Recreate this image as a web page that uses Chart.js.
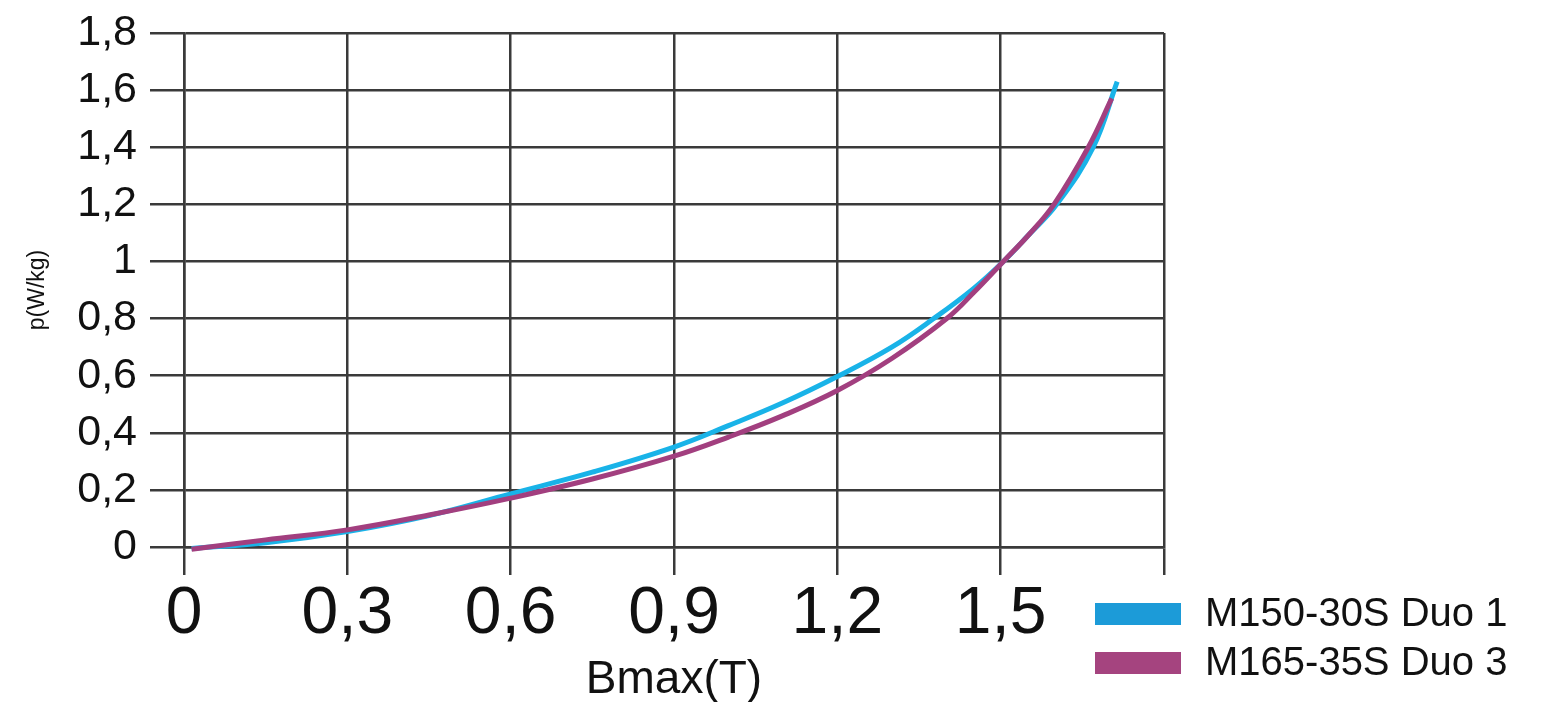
<!DOCTYPE html>
<html lang="fr">
<head>
    <meta charset="UTF-8">
    <title>p(W/kg) vs Bmax(T)</title>
    <script src="https://cdn.jsdelivr.net/npm/chart.js"></script>
    <style>
        body { margin: 0; background: #fff; }
        #lossChart { display: block; }
    </style>
</head>
<body>
<canvas id="lossChart" width="1543" height="702"></canvas>
<script>
// data
const seriesNames = ['M150-30S Duo 1', 'M165-35S Duo 3'];

const duo1B = [0.014, 0.15, 0.3, 0.45, 0.6, 0.75, 0.9, 1.0, 1.1, 1.2, 1.3, 1.377, 1.45, 1.505, 1.55, 1.603, 1.67, 1.714];
const duo1P = [-0.005, 0.015, 0.054, 0.11, 0.186, 0.262, 0.35, 0.425, 0.505, 0.597, 0.70, 0.8, 0.905, 1.0, 1.09, 1.2, 1.4, 1.63];

const duo3B = [0.014, 0.15, 0.3, 0.45, 0.6, 0.75, 0.9, 1.0, 1.1, 1.2, 1.3, 1.401, 1.45, 1.505, 1.55, 1.598, 1.661, 1.704];
const duo3P = [-0.008, 0.025, 0.06, 0.112, 0.171, 0.238, 0.318, 0.385, 0.46, 0.548, 0.66, 0.8, 0.89, 1.0, 1.09, 1.2, 1.4, 1.571];

const xTickLabels = ['0', '0,3', '0,6', '0,9', '1,2', '1,5', ''];
const yTickLabels = ['0', '0,2', '0,4', '0,6', '0,8', '1', '1,2', '1,4', '1,6', '1,8'];

const gridColor = '#3a3a3a';
const fontFamily = '"Liberation Sans", Arial, sans-serif';

function toPoints(xs, ys) {
    return xs.map((x, i) => ({ x: x, y: ys[i] }));
}

// legend drawn below-right of the plot, like the original
const sideLegend = {
    id: 'sideLegend',
    afterDraw(chart) {
        const ctx = chart.ctx;
        ctx.save();
        ctx.font = '40px ' + fontFamily;
        ctx.textBaseline = 'middle';
        ctx.textAlign = 'left';
        chart.data.datasets.forEach((ds, i) => {
            const y = 603 + i * 49;
            ctx.fillStyle = ds.legendColor;
            ctx.fillRect(1095, y, 86, 22);
            ctx.fillStyle = '#111';
            ctx.fillText(ds.label, 1205, y + 12);
        });
        ctx.restore();
    }
};

const ctx = document.getElementById('lossChart').getContext('2d');
const lossChart = new Chart(ctx, {
    type: 'line',
    data: {
        datasets: [
            {
                label: seriesNames[0],
                data: toPoints(duo1B, duo1P),
                borderColor: '#19b3e8',
                legendColor: '#1c9bd8',
                borderWidth: 5,
                pointRadius: 0,
                tension: 0.4,
                clip: false,
                order: 1
            },
            {
                label: seriesNames[1],
                data: toPoints(duo3B, duo3P),
                borderColor: '#a23f7f',
                legendColor: '#a5447f',
                borderWidth: 5,
                pointRadius: 0,
                tension: 0.4,
                clip: false,
                order: 0
            }
        ]
    },
    options: {
        responsive: false,
        animation: false,
        layout: { padding: { top: 33, right: 379, left: 0, bottom: 0 } },
        plugins: {
            legend: { display: false },
            tooltip: { enabled: false }
        },
        scales: {
            x: {
                type: 'linear',
                min: 0,
                max: 1.8,
                afterFit(scale) {
                    scale.height = 155;
                    scale.paddingLeft = 0;
                    scale.paddingRight = 0;
                },
                ticks: {
                    stepSize: 0.3,
                    maxRotation: 0,
                    autoSkip: false,
                    padding: 0,
                    color: '#111',
                    font: { family: fontFamily, size: 66 },
                    callback: (v, i) => xTickLabels[i]
                },
                grid: { color: gridColor, lineWidth: 2.5, tickLength: 28 },
                border: { color: gridColor, width: 2.5 },
                title: {
                    display: true,
                    text: 'Bmax(T)',
                    color: '#111',
                    padding: { top: 0, bottom: -6 },
                    font: { family: fontFamily, size: 46 }
                }
            },
            y: {
                min: 0,
                max: 1.8,
                afterFit(scale) {
                    scale.width = 184;
                    scale.paddingTop = 0;
                    scale.paddingBottom = 0;
                },
                ticks: {
                    stepSize: 0.2,
                    autoSkip: false,
                    padding: 13,
                    color: '#111',
                    font: { family: fontFamily, size: 43 },
                    callback: (v, i) => yTickLabels[i]
                },
                grid: { color: gridColor, lineWidth: 2.5, tickLength: 34 },
                border: { color: gridColor, width: 2.5 },
                title: {
                    display: true,
                    text: 'p(W/kg)',
                    color: '#111',
                    padding: { top: 24, bottom: 0 },
                    font: { family: fontFamily, size: 23 }
                }
            }
        }
    },
    plugins: [sideLegend]
});
</script>
</body>
</html>
